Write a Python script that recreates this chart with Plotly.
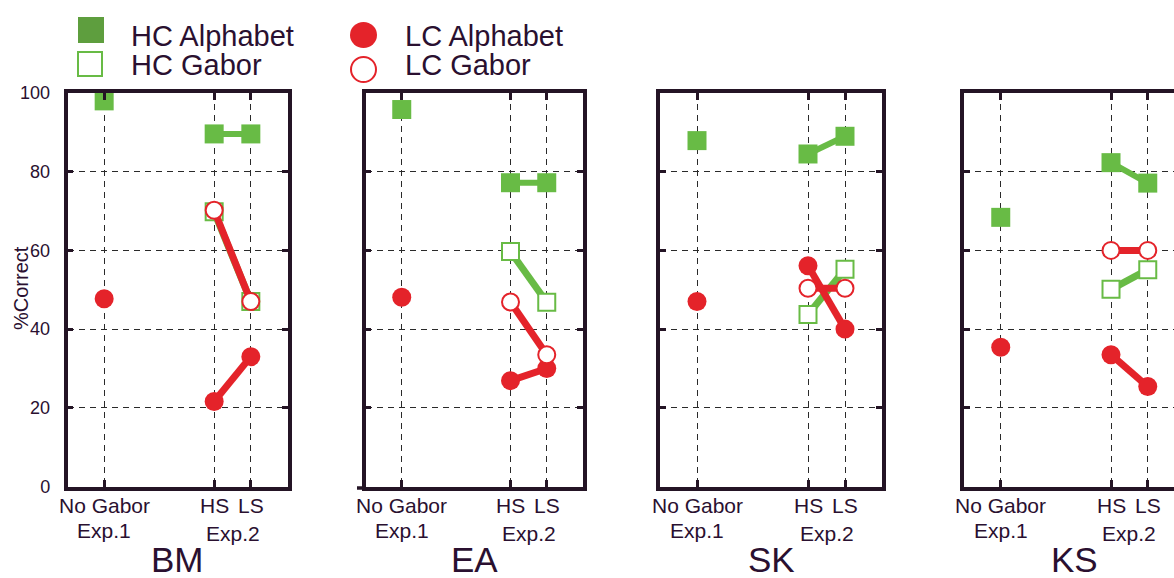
import plotly.graph_objects as go

# ---- data: percent correct per subject ----
subjects = ["BM", "EA", "SK", "KS"]
cond_labels = ["No Gabor", "HS", "LS"]
exp_labels = ["Exp.1", "Exp.2"]
y_ticks = [0, 20, 40, 60, 80, 100]

hc_alphabet_nogabor = [98.0, 95.8, 87.9, 68.4]
hc_alphabet_hs = [89.6, 77.2, 84.5, 82.3]
hc_alphabet_ls = [89.6, 77.2, 89.0, 77.1]

hc_gabor_hs = [69.8, 59.7, 43.7, 50.1]
hc_gabor_ls = [47.0, 46.8, 55.2, 55.1]

lc_alphabet_nogabor = [47.7, 48.1, 47.0, 35.4]
lc_alphabet_hs = [21.6, 26.9, 56.1, 33.5]
lc_alphabet_ls = [33.0, 30.0, 40.0, 25.4]

lc_gabor_hs = [70.2, 46.9, 50.4, 60.0]
lc_gabor_ls = [47.0, 33.5, 50.4, 60.0]

# ---- layout constants ----
W, H = 1174, 578
POS = {"No Gabor": 1, "HS": 4, "LS": 5}
# panel pixel extents (left, right, x-range max)
PANELS = [(67.5, 287.5, 6.0), (365.5, 583.0, 6.0), (660.0, 882.0, 6.0), (964.0, 1174.0, 5.714)]
Y_TOP_PX, Y_BOT_PX = 93.0, 486.5

GREEN = "#68bb45"
GREEN_LEG = "#5e9e3e"
RED = "#e4232a"
FRAME = "#241425"
GRID = "#2a2a2a"
TEXT = "#2a1030"
FONT = "Liberation Sans, Arial, Helvetica, sans-serif"
LINE_W = 7


def px_x(p):
    return p / W


def px_y(p):
    return 1 - p / H


fig = go.Figure()

for i, subj in enumerate(subjects):
    s = "" if i == 0 else str(i + 1)
    xa, ya = "x" + s, "y" + s
    x_ng = [POS["No Gabor"]]
    x_e2 = [POS["HS"], POS["LS"]]

    # HC Alphabet
    fig.add_trace(go.Scatter(
        x=x_e2, y=[hc_alphabet_hs[i], hc_alphabet_ls[i]], xaxis=xa, yaxis=ya,
        mode="lines+markers", line=dict(color=GREEN, width=LINE_W - 1),
        marker=dict(symbol="square", size=19, color=GREEN, line=dict(width=0)),
        cliponaxis=False, showlegend=False, hoverinfo="skip"))
    fig.add_trace(go.Scatter(
        x=x_ng, y=[hc_alphabet_nogabor[i]], xaxis=xa, yaxis=ya,
        mode="markers",
        marker=dict(symbol="square", size=19, color=GREEN, line=dict(width=0)),
        cliponaxis=False, showlegend=False, hoverinfo="skip"))
    # HC Gabor
    fig.add_trace(go.Scatter(
        x=x_e2, y=[hc_gabor_hs[i], hc_gabor_ls[i]], xaxis=xa, yaxis=ya,
        mode="lines+markers", line=dict(color=GREEN, width=LINE_W),
        marker=dict(symbol="square", size=17, color="white", line=dict(color=GREEN, width=2)),
        cliponaxis=False, showlegend=False, hoverinfo="skip"))
    # LC Alphabet
    fig.add_trace(go.Scatter(
        x=x_e2, y=[lc_alphabet_hs[i], lc_alphabet_ls[i]], xaxis=xa, yaxis=ya,
        mode="lines+markers", line=dict(color=RED, width=LINE_W),
        marker=dict(symbol="circle", size=19, color=RED, line=dict(width=0)),
        cliponaxis=False, showlegend=False, hoverinfo="skip"))
    fig.add_trace(go.Scatter(
        x=x_ng, y=[lc_alphabet_nogabor[i]], xaxis=xa, yaxis=ya,
        mode="markers",
        marker=dict(symbol="circle", size=19, color=RED, line=dict(width=0)),
        cliponaxis=False, showlegend=False, hoverinfo="skip"))
    # LC Gabor
    fig.add_trace(go.Scatter(
        x=x_e2, y=[lc_gabor_hs[i], lc_gabor_ls[i]], xaxis=xa, yaxis=ya,
        mode="lines+markers", line=dict(color=RED, width=LINE_W),
        marker=dict(symbol="circle", size=17, color="white", line=dict(color=RED, width=2)),
        cliponaxis=False, showlegend=False, hoverinfo="skip"))

layout = dict(
    width=W, height=H, autosize=False,
    margin=dict(l=0, r=0, t=0, b=0, pad=0),
    paper_bgcolor="white", plot_bgcolor="white",
    font=dict(family=FONT, color=TEXT),
    annotations=[], shapes=[],
)

for i, (left, right, xmax) in enumerate(PANELS):
    s = "" if i == 0 else str(i + 1)
    layout["xaxis" + s] = dict(
        domain=[px_x(left), px_x(right)], range=[0, xmax], anchor="y" + s,
        tickvals=[POS[c] for c in cond_labels], showticklabels=False,
        ticks="inside", ticklen=7, tickwidth=2.5, tickcolor=FRAME,
        showline=True, linewidth=3.5, linecolor=FRAME, mirror="ticks",
        showgrid=True, gridcolor=GRID, gridwidth=1.4, griddash="6px,5px",
        zeroline=False, fixedrange=True, automargin=False,
    )
    layout["yaxis" + s] = dict(
        domain=[px_y(Y_BOT_PX), px_y(Y_TOP_PX)], range=[0, 100], anchor="x" + s,
        tickvals=y_ticks, showticklabels=(i == 0),
        tickfont=dict(size=18, color=TEXT), ticklabelstandoff=10,
        ticks="inside", ticklen=6, tickwidth=2.5, tickcolor=FRAME,
        showline=True, linewidth=3.5, linecolor=FRAME,
        mirror=("ticks" if i < 3 else False),
        showgrid=True, gridcolor=GRID, gridwidth=1.4, griddash="6px,5px",
        zeroline=False, fixedrange=True, automargin=False,
    )

    xr = "x" + s
    ann = layout["annotations"]
    for c in cond_labels:
        ann.append(dict(x=POS[c], y=px_y(505.5), xref=xr, yref="paper", text=c,
                        showarrow=False, xanchor="center", yanchor="middle",
                        font=dict(size=21, color=TEXT)))
    ann.append(dict(x=POS["No Gabor"], y=px_y(530.5), xref=xr, yref="paper", text=exp_labels[0],
                    showarrow=False, xanchor="center", yanchor="middle",
                    font=dict(size=21, color=TEXT)))
    ann.append(dict(x=(POS["HS"] + POS["LS"]) / 2, y=px_y(533), xref=xr, yref="paper",
                    text=exp_labels[1], showarrow=False, xanchor="center", yanchor="middle",
                    font=dict(size=21, color=TEXT)))
    ann.append(dict(x=3, y=px_y(559), xref=xr, yref="paper", text=subjects[i],
                    showarrow=False, xanchor="center", yanchor="middle", borderpad=0,
                    font=dict(size=35, color=TEXT)))

# short stub of the EA baseline to the left of its frame
layout["shapes"].append(dict(type="line", xref="paper", yref="paper",
                             x0=px_x(357), x1=px_x(366), y0=px_y(488), y1=px_y(488),
                             line=dict(color=FRAME, width=3.5)))

# y-axis title
layout["annotations"].append(dict(
    x=px_x(21), y=px_y(288), xref="paper", yref="paper", text="%Correct",
    textangle=-90, showarrow=False, xanchor="center", yanchor="middle",
    font=dict(size=20, color=TEXT)))

# legend: marker swatches
def rect(x0, y0, x1, y1, **kw):
    return dict(type="rect", xref="paper", yref="paper",
                x0=px_x(x0), x1=px_x(x1), y0=px_y(y1), y1=px_y(y0), **kw)


def circ(x0, y0, x1, y1, **kw):
    return dict(type="circle", xref="paper", yref="paper",
                x0=px_x(x0), x1=px_x(x1), y0=px_y(y1), y1=px_y(y0), **kw)


layout["shapes"] += [
    rect(78, 17, 104, 43, fillcolor=GREEN_LEG, line=dict(width=0)),
    rect(78, 52, 102, 76, fillcolor="white", line=dict(color=GREEN, width=2)),
    circ(350, 22, 377, 48, fillcolor=RED, line=dict(width=0)),
    circ(351, 57, 376, 82, fillcolor="white", line=dict(color=RED, width=2)),
]

legend_text = [("HC Alphabet", 129, 35.5), ("HC Gabor", 129, 64.5),
               ("LC Alphabet", 403, 35.5), ("LC Gabor", 403, 64.5)]
for txt, lx, cy in legend_text:
    layout["annotations"].append(dict(
        x=px_x(lx), y=px_y(cy), xref="paper", yref="paper", text=txt,
        showarrow=False, xanchor="left", yanchor="middle",
        font=dict(size=29, color=TEXT)))

fig.update_layout(**layout)
fig.write_html("out.html", config={"displayModeBar": False, "responsive": False},
               default_width=f"{W}px", default_height=f"{H}px")
